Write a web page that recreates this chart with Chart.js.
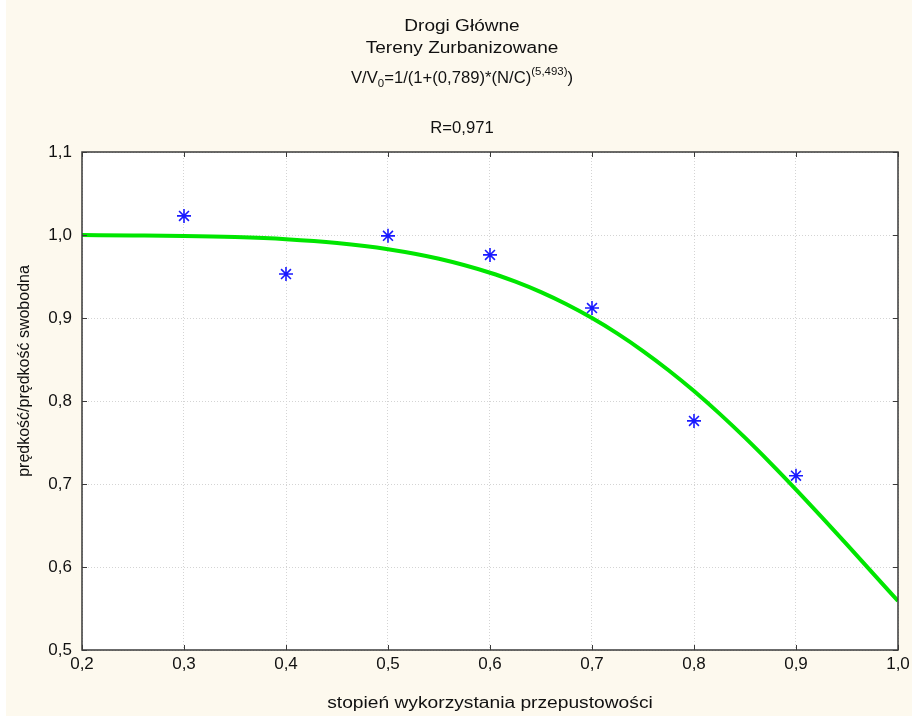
<!DOCTYPE html>
<html>
<head>
<meta charset="utf-8">
<script src="https://cdn.jsdelivr.net/npm/chart.js@4.4.1/dist/chart.umd.min.js"></script>
<style>
html,body{margin:0;padding:0;background:#ffffff;}
#wrap{position:absolute;left:0;top:0;width:912px;height:716px;}
</style>
</head>
<body>
<div id="wrap"><canvas id="c" width="912" height="716"></canvas></div>
<script>
// Measured points
const obsX = [0.3, 0.4, 0.5, 0.6, 0.7, 0.8, 0.9];
const obsY = [1.023, 0.953, 0.999, 0.976, 0.912, 0.776, 0.710];
// Fitted curve values
const fitX = [0.2,0.25,0.3,0.35,0.4,0.45,0.5,0.55,0.6,0.625,0.65,0.675,0.7,0.725,0.75,0.775,0.8,0.825,0.85,0.875,0.9,0.925,0.95,0.975,1.0];
const fitY = [0.9999,0.9995,0.9989,0.9975,0.9949,0.9903,0.9828,0.9713,0.9545,0.9437,0.9311,0.9165,0.8999,0.8812,0.8602,0.8371,0.8120,0.7848,0.7558,0.7252,0.6933,0.6604,0.6269,0.5929,0.5590];
// Labels
const titleLines = ["Drogi Główne", "Tereny Zurbanizowane"];
const formulaParts = [["V/V","n"],["0","sub"],["=1/(1+(0,789)*(N/C)","n"],["(5,493)","sup"],[")","n"]];
const rText = "R=0,971";
const xTitle = "stopień wykorzystania przepustowości";
const yTitle = "prędkość/prędkość swobodna";

const FONT = "'Liberation Sans', Arial, Helvetica, sans-serif";
const fmt = v => v.toFixed(1).replace('.', ',');

function stretchText(ctx, text, x, y, sx, rot) {
  ctx.save();
  ctx.translate(x, y);
  if (rot) ctx.rotate(rot);
  ctx.scale(sx, 1);
  ctx.fillText(text, 0, 0);
  ctx.restore();
}

const bgPlugin = {
  id: 'bg',
  beforeDraw(chart) {
    const ctx = chart.ctx, a = chart.chartArea;
    ctx.save();
    ctx.fillStyle = '#fdf9ee';
    ctx.fillRect(6, 0, 906, 716);
    ctx.fillStyle = '#ffffff';
    ctx.fillRect(a.left, a.top, a.right - a.left, a.bottom - a.top);
    ctx.restore();
  },
  afterDraw(chart) {
    const ctx = chart.ctx, a = chart.chartArea;
    const xs = chart.scales.x, ys = chart.scales.y;
    ctx.save();
    // frame
    ctx.strokeStyle = '#3a3a3a';
    ctx.lineWidth = 1.5;
    ctx.strokeRect(a.left, a.top, a.right - a.left, a.bottom - a.top);
    // inward ticks
    ctx.lineWidth = 1;
    ctx.beginPath();
    xs.ticks.forEach(t => {
      const px = Math.round(xs.getPixelForValue(t.value)) + 0.5;
      ctx.moveTo(px, a.bottom); ctx.lineTo(px, a.bottom - 5);
      ctx.moveTo(px, a.top); ctx.lineTo(px, a.top + 5);
    });
    ys.ticks.forEach(t => {
      const py = Math.round(ys.getPixelForValue(t.value)) + 0.5;
      ctx.moveTo(a.left, py); ctx.lineTo(a.left + 5, py);
      ctx.moveTo(a.right, py); ctx.lineTo(a.right - 5, py);
    });
    ctx.stroke();
    // titles
    const cx = 462;
    ctx.fillStyle = '#111111';
    ctx.textAlign = 'center';
    ctx.textBaseline = 'middle';
    ctx.font = '16px ' + FONT;
    stretchText(ctx, titleLines[0], cx, 27, 1.19);
    stretchText(ctx, titleLines[1], cx, 49, 1.19);
    stretchText(ctx, rText, cx, 129, 1.04);
    // axis titles
    stretchText(ctx, xTitle, (a.left + a.right) / 2, 704, 1.2);
    stretchText(ctx, yTitle, 25, 371, 1.0, -Math.PI / 2);
    // formula with sub/superscript
    const sx = 1.04;
    const fonts = {n: '16px ' + FONT, sub: '11px ' + FONT, sup: '11px ' + FONT};
    const dy = {n: 0, sub: 5, sup: -7};
    let total = 0;
    formulaParts.forEach(p => { ctx.font = fonts[p[1]]; total += ctx.measureText(p[0]).width; });
    ctx.save();
    ctx.translate(cx, 79);
    ctx.scale(sx, 1);
    let x = -total / 2;
    ctx.textAlign = 'left';
    formulaParts.forEach(p => {
      ctx.font = fonts[p[1]];
      ctx.fillText(p[0], x, dy[p[1]]);
      x += ctx.measureText(p[0]).width;
    });
    ctx.restore();
    ctx.restore();
  }
};

new Chart(document.getElementById('c'), {
  type: 'scatter',
  data: {
    datasets: [
      {
        label: 'obs',
        data: obsX.map((x, i) => ({x: x, y: obsY[i]})),
        pointStyle: 'star',
        radius: 7,
        borderColor: '#1a1aff',
        backgroundColor: '#1a1aff',
        borderWidth: 1.6,
        showLine: false
      },
      {
        label: 'fit',
        type: 'line',
        data: fitX.map((x, i) => ({x: x, y: fitY[i]})),
        borderColor: '#00e600',
        borderWidth: 4,
        pointRadius: 0,
        fill: false,
        cubicInterpolationMode: 'monotone'
      }
    ]
  },
  options: {
    responsive: false,
    animation: false,
    devicePixelRatio: 1,
    layout: {padding: {top: 152, left: 0, right: 0, bottom: 0}},
    plugins: {legend: {display: false}, tooltip: {enabled: false}, title: {display: false}},
    scales: {
      x: {
        type: 'linear', min: 0.2, max: 1.0,
        afterFit: s => { s.height = 66; s.paddingRight = 14; s.paddingLeft = 0; },
        ticks: {stepSize: 0.1, callback: v => fmt(v), color: '#111', font: {family: FONT, size: 17}, padding: 4, maxRotation: 0},
        grid: {color: '#d4d4d4', lineWidth: 1, drawTicks: false},
        border: {display: false, dash: [1, 2]},
        title: {display: false}
      },
      y: {
        type: 'linear', min: 0.5, max: 1.1,
        afterFit: s => { s.width = 82; },
        ticks: {stepSize: 0.1, callback: v => fmt(v), color: '#111', font: {family: FONT, size: 17}, padding: 10},
        grid: {color: '#d4d4d4', lineWidth: 1, drawTicks: false},
        border: {display: false, dash: [1, 2]},
        title: {display: false}
      }
    }
  },
  plugins: [bgPlugin]
});
</script>
</body>
</html>
